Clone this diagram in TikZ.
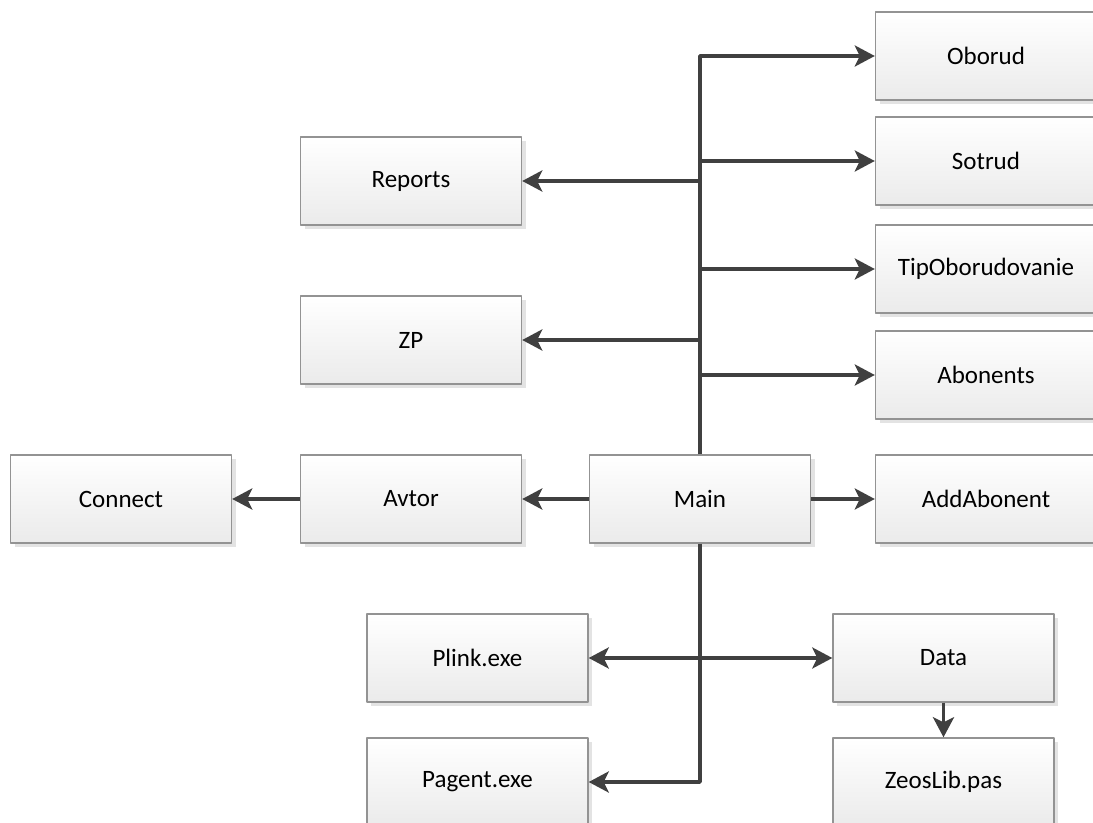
\documentclass[tikz,border=0pt]{standalone}
\usepackage{fontspec}
\setmainfont{Carlito}
\usetikzlibrary{arrows.meta,shadows}
\begin{document}
\begin{tikzpicture}[x=0.5pt, y=-0.5pt, font=\fontsize{12.5}{15}\selectfont, line join=round,
	box/.style={draw=gray!85, line width=0.7pt, top color=white, bottom color=gray!16,
		minimum width=110.5pt, minimum height=44pt, inner sep=0pt,
		drop shadow={shadow xshift=2.2pt, shadow yshift=-2.2pt, fill=gray!22, opacity=1}},
	conn/.style={draw=black!75, line width=1.8pt, -{Stealth[length=10pt, width=10.5pt, inset=2.5pt]}},
	conn2/.style={conn, {Stealth[length=10pt, width=10.5pt, inset=2.5pt]}-{Stealth[length=10pt, width=10.5pt, inset=2.5pt]}}]
	% Рамка рисунка
	\useasboundingbox (0,0) rectangle (1093,823);
	
	% Блоки справа
	\node[box] (oborud) at (986,56) {Oborud};
	\node[box] (sotrud) at (986,161) {Sotrud};
	\node[box] (tip) at (986,269) {TipOborudovanie};
	\node[box] (abonents) at (986,375) {Abonents};
	\node[box] (addab) at (986,499) {AddAbonent};
	
	% Средний ряд
	\node[box] (main) at (700,499) {Main};
	\node[box] (avtor) at (411,499) {Avtor};
	\node[box] (connect) at (121,499) {Connect};
	
	% Блоки слева
	\node[box] (reports) at (411,181) {Reports};
	\node[box] (zp) at (411,340) {ZP};
	
	% Нижние блоки
	\node[box] (plink) at (477.5,658) {Plink.exe};
	\node[box] (pagent) at (477.5,782) {Pagent.exe};
	\node[box] (data) at (943.5,658) {Data};
	\node[box] (zeos) at (943.5,782) {ZeosLib.pas};
	
	% Стрелки вверх от Main
	\draw[conn] (main.north) |- (oborud.west);
	\draw[conn] (main.north |- sotrud.west) -- (sotrud.west);
	\draw[conn] (main.north |- tip.west) -- (tip.west);
	\draw[conn] (main.north |- abonents.west) -- (abonents.west);
	\draw[conn] (main.north |- reports.east) -- (reports.east);
	\draw[conn] (main.north |- zp.east) -- (zp.east);
	
	% Стрелки в ряду Main
	\draw[conn] (main.east) -- (addab.west);
	\draw[conn] (main.west) -- (avtor.east);
	\draw[conn] (avtor.west) -- (connect.east);
	
	% Стрелки вниз от Main
	\draw[conn] (main.south) |- (pagent.east);
	\draw[conn2] (plink.east) -- (data.west);
	\draw[conn] (data.south) -- (zeos.north);
\end{tikzpicture}
\end{document}
